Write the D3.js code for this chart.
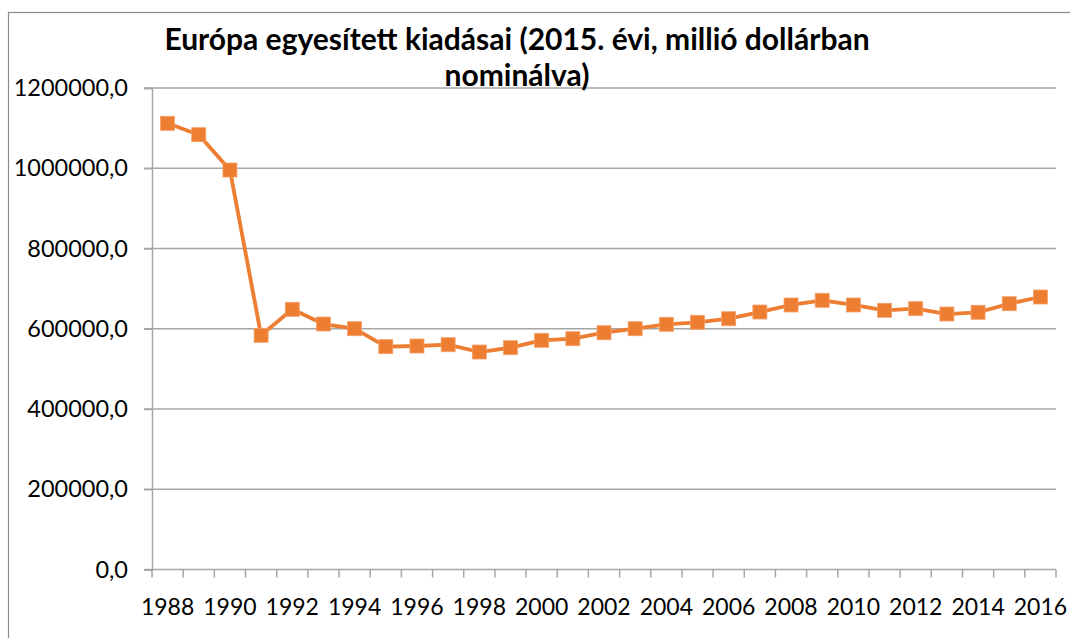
<!DOCTYPE html>
<html>
<head>
<meta charset="utf-8">
<script src="https://cdn.jsdelivr.net/npm/d3@7"></script>
<style>
  body { margin: 0; background: #fff; }
  text { font-family: Lato, "Open Sans", "DejaVu Sans", sans-serif; fill: #000; }
</style>
</head>
<body>
<svg id="chart" width="1070" height="638"></svg>
<script>
// Years on the category axis
const years = [1988, 1989, 1990, 1991, 1992, 1993, 1994, 1995, 1996, 1997,
               1998, 1999, 2000, 2001, 2002, 2003, 2004, 2005, 2006, 2007,
               2008, 2009, 2010, 2011, 2012, 2013, 2014, 2015, 2016];
// Combined European spending, million USD (2015 prices)
const spending = [1112000, 1083600, 995600, 583700, 648500, 611800, 600100, 555300, 557000, 560200,
                  542000, 552800, 571200, 575200, 590100, 600100, 611100, 616100, 625000, 641700,
                  659200, 670900, 659200, 646000, 650000, 636700, 641000, 662400, 679100];
// Value axis ticks and labelled years
const yTicks = [0, 200000, 400000, 600000, 800000, 1000000, 1200000];
const xLabelYears = years.filter((d, i) => i % 2 === 0);
const titleLines = ["Európa egyesített kiadásai (2015. évi, millió dollárban", "nominálva)"];

const svg = d3.select("#chart");
const plot = { left: 152, right: 1056, top: 88, bottom: 569.5 };
const gridColor = "#a6a6a6";
const seriesColor = "#ED7D31";

const x = d3.scaleBand().domain(years).range([plot.left, plot.right]).paddingInner(0).paddingOuter(0);
const y = d3.scaleLinear().domain([0, 1200000]).range([plot.bottom, plot.top]);

const huLocale = d3.formatLocale({ decimal: ",", thousands: "", grouping: [3], currency: ["", ""] });
const fmt = huLocale.format(".1f");

// Chart frame (extends past the right and bottom edges)
svg.append("rect")
  .attr("x", 8.5).attr("y", 12.5)
  .attr("width", 1100).attr("height", 700)
  .attr("fill", "none").attr("stroke", "#8c8c8c").attr("stroke-width", 1.2);

// Horizontal gridlines with left tick marks
svg.append("g")
  .selectAll("line")
  .data(yTicks.filter(d => d > 0))
  .join("line")
  .attr("x1", plot.left - 8).attr("x2", plot.right)
  .attr("y1", d => y(d)).attr("y2", d => y(d))
  .attr("stroke", gridColor).attr("stroke-width", 1.5);

// Value axis
const yAxis = svg.append("g")
  .attr("transform", `translate(${plot.left},0)`)
  .call(d3.axisLeft(y).tickValues(yTicks).tickFormat(fmt).tickSize(8).tickPadding(16));
yAxis.select(".domain").attr("stroke", gridColor).attr("stroke-width", 1.5);
yAxis.selectAll(".tick line").attr("stroke", gridColor).attr("stroke-width", 1.5);
yAxis.selectAll("text").attr("font-size", 23.5).attr("fill", "#000");

// Category axis: baseline, boundary ticks, labels every second year
const xg = svg.append("g").attr("transform", `translate(0,${plot.bottom})`);
xg.append("line")
  .attr("x1", plot.left - 8).attr("x2", plot.right)
  .attr("stroke", gridColor).attr("stroke-width", 1.5);
const boundaries = years.map(d => x(d)).concat([x(years[years.length - 1]) + x.bandwidth()]);
xg.selectAll("line.bt")
  .data(boundaries)
  .join("line").attr("class", "bt")
  .attr("x1", d => d).attr("x2", d => d)
  .attr("y1", 0).attr("y2", 8)
  .attr("stroke", gridColor).attr("stroke-width", 1.5);
const xAxis = xg.append("g")
  .call(d3.axisBottom(x).tickValues(xLabelYears).tickSize(0).tickPadding(29));
xAxis.select(".domain").remove();
xAxis.selectAll("text").attr("font-size", 23).attr("fill", "#000");

// Series line
const cx = d => x(d) + x.bandwidth() / 2;
svg.append("path")
  .datum(years.map((yr, i) => [yr, spending[i]]))
  .attr("fill", "none")
  .attr("stroke", seriesColor)
  .attr("stroke-width", 3.8)
  .attr("stroke-linejoin", "round")
  .attr("d", d3.line().x(d => cx(d[0])).y(d => y(d[1])));

// Square markers
const m = 14;
svg.append("g")
  .selectAll("rect")
  .data(years.map((yr, i) => [yr, spending[i]]))
  .join("rect")
  .attr("x", d => cx(d[0]) - m / 2)
  .attr("y", d => y(d[1]) - m / 2)
  .attr("width", m).attr("height", m)
  .attr("fill", seriesColor)
  .attr("stroke", "#f4a06a").attr("stroke-width", 0.8);

// Title
svg.append("text")
  .attr("x", 517).attr("text-anchor", "middle")
  .attr("font-size", 30).attr("font-weight", 700)
  .selectAll("tspan")
  .data(titleLines)
  .join("tspan")
  .attr("x", 517)
  .attr("y", (d, i) => 50 + i * 36)
  .text(d => d);
</script>
</body>
</html>
